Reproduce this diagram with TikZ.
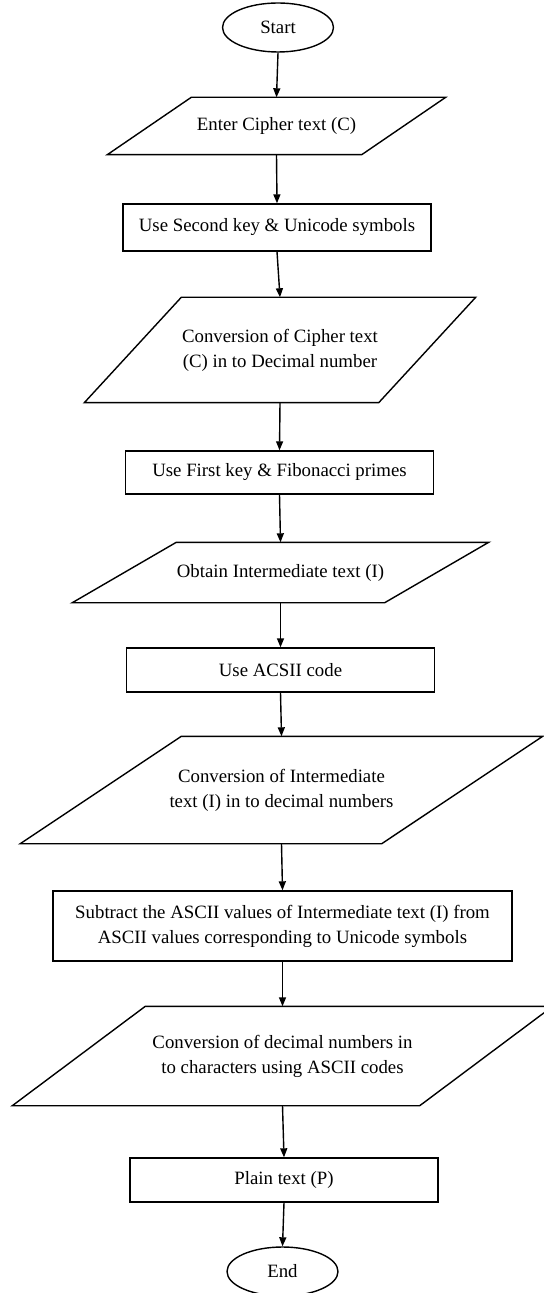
\documentclass[tikz,border=0pt]{standalone}
\usepackage{fontspec}
\setmainfont{Liberation Serif}
\usetikzlibrary{shapes.geometric,arrows.meta}

% outline of an input/output box round a plain node
\newcommand{\ioframe}[2]{%
  \draw ([xshift=#2]#1.north west) -- (#1.north east)
    -- ([xshift=-#2]#1.south east) -- (#1.south west) -- cycle;}

\begin{document}
\begin{tikzpicture}[x = 0.5pt, y = -0.5pt, line width = 0.7pt,
  every node/.style={font=\fontsize{9.4}{12.5}\selectfont, align=center, inner sep=0pt},
  term/.style={draw, ellipse, minimum width=55.5pt, minimum height=24.5pt},
  proc/.style={draw, rectangle, minimum width=154pt},
  io/.style={rectangle},
  flow/.style={-{Triangle[length=4.5pt, width=3.5pt]}}]

  \useasboundingbox (0, 0) rectangle (543, 1293);

  \node[term] (start) at (278, 27.5) {Start};

  \node[io, minimum width=168.5pt, minimum height=28pt] (enter) at (276.5, 126) {Enter Cipher text (C)};
  \ioframe{enter}{42pt}

  \node[proc, minimum height=23.5pt] (second) at (277, 227.5) {Use Second key \& Unicode symbols};

  \node[io, minimum width=195pt, minimum height=52pt] (convc) at (280, 350) {Conversion of Cipher text\\(C) in to Decimal number};
  \ioframe{convc}{48.5pt}

  \node[proc, minimum height=21.5pt] (first) at (279.5, 472.5) {Use First key \& Fibonacci primes};

  \node[io, minimum width=207.5pt, minimum height=29.5pt] (obtain) at (280.5, 572.5) {Obtain Intermediate text (I)};
  \ioframe{obtain}{52pt}

  \node[proc, minimum height=22pt] (ascii) at (280.5, 670) {Use ACSII code};

  \node[io, minimum width=260.5pt, minimum height=53pt] (convi) at (281.5, 790) {Conversion of Intermediate\\text (I) in to decimal numbers};
  \ioframe{convi}{80.5pt}

  \node[proc, minimum width=229.5pt, minimum height=35pt] (subtract) at (282.5, 926) {Subtract the ASCII values of Intermediate text (I) from\\ASCII values corresponding to Unicode symbols};

  \node[io, minimum width=269.5pt, minimum height=49pt] (convd) at (282.5, 1056) {Conversion of decimal numbers in\\to characters using ASCII codes};
  \ioframe{convd}{66.5pt}

  \node[proc, minimum height=22pt] (plain) at (284, 1180) {Plain text (P)};

  \node[term] (end) at (282.5, 1271.5) {End};

  \draw[flow] (start.south) -- (enter.north);
  \draw[flow] (enter.south) -- (second.north);
  \draw[flow] (second.south) -- (convc.north);
  \draw[flow] (convc.south) -- (first.north);
  \draw[flow] (first.south) -- (obtain.north);
  \draw[flow] (obtain.south) -- (ascii.north);
  \draw[flow] (ascii.south) -- (convi.north);
  \draw[flow] (convi.south) -- (subtract.north);
  \draw[flow] (subtract.south) -- (convd.north);
  \draw[flow] (convd.south) -- (plain.north);
  \draw[flow] (plain.south) -- (end.north);

\end{tikzpicture}
\end{document}
